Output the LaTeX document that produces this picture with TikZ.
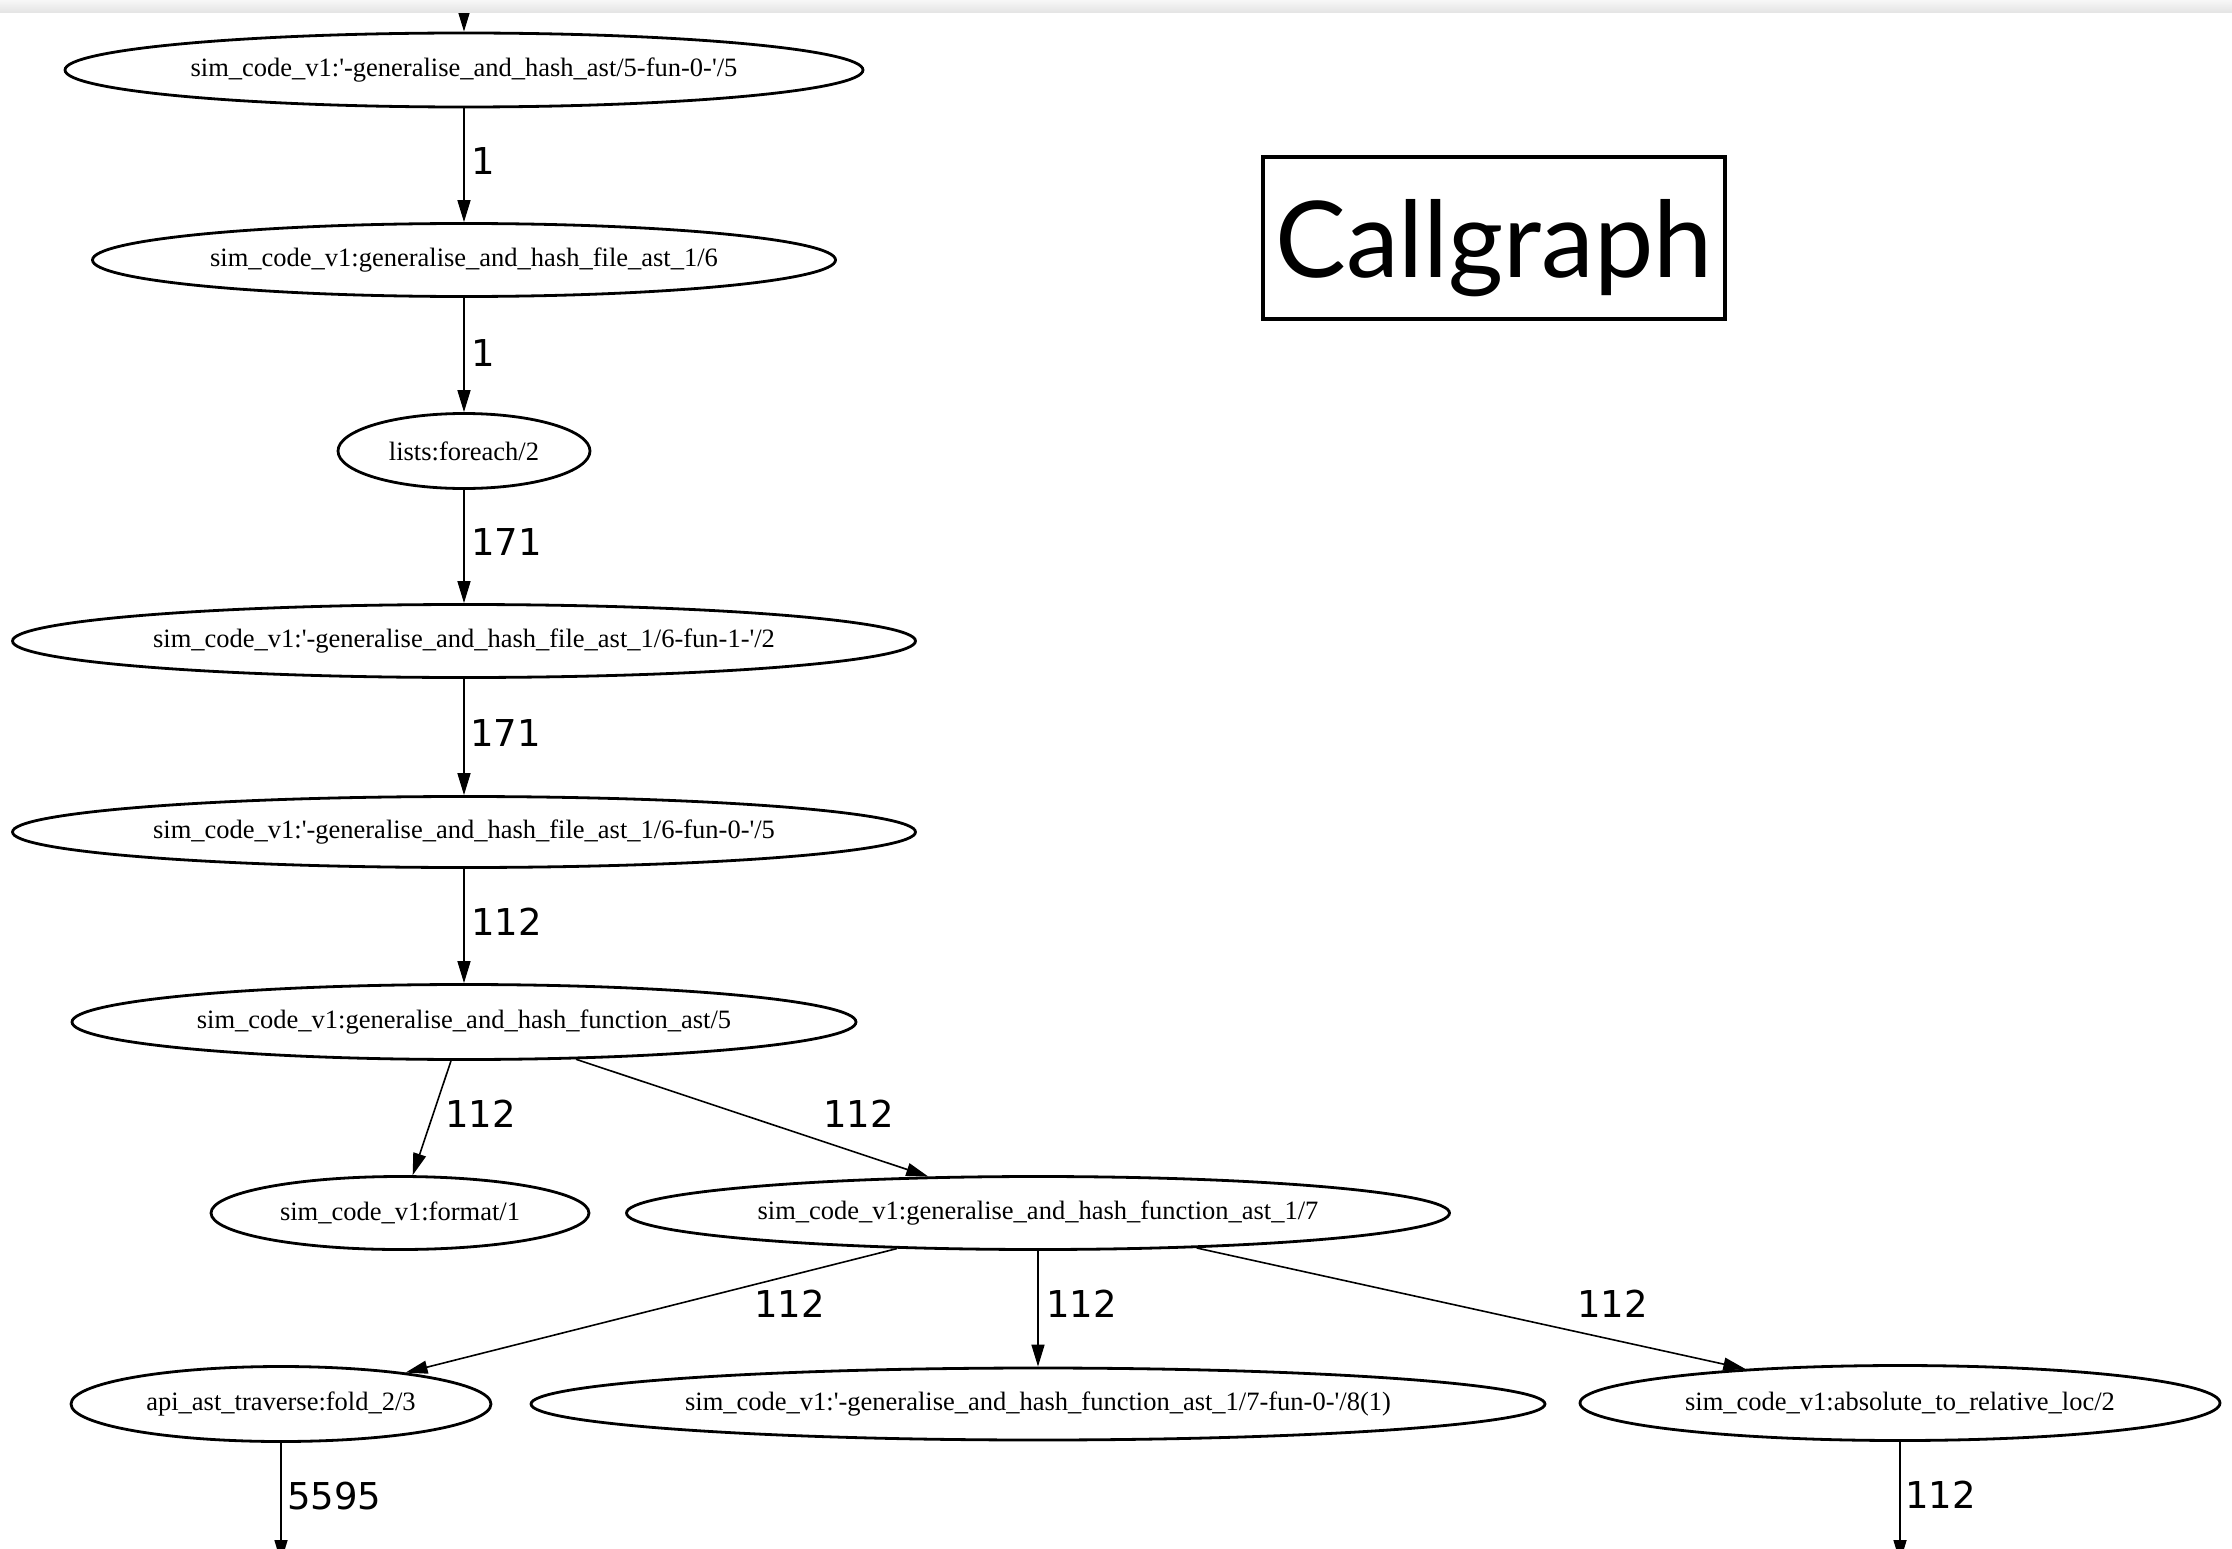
\documentclass[tikz,border=0pt]{standalone}
\usepackage{fontspec}
\setmainfont{Liberation Serif}
\newfontfamily\lblfont{DejaVu Sans}
\newfontfamily\titlefont{Lato}
\usetikzlibrary{arrows.meta,shapes.geometric}
\newcommand{\sq}{\textquotesingle}
\begin{document}
\begin{tikzpicture}[x=1pt,y=-1pt,
  fn/.style={ellipse, draw, line width=2.8pt, inner sep=0pt, font=\fontsize{26.5}{30}\selectfont},
  call/.style={draw, line width=1.6pt, -{Triangle[length=22pt,width=13pt]}},
  cnt/.style={anchor=west, inner sep=0pt, font=\lblfont\fontsize{37}{40}\selectfont},
  titlebox/.style={draw, line width=4pt, minimum width=462pt, minimum height=162pt, inner sep=0pt}]
\useasboundingbox (0,0) rectangle (2232,1549);
\fill[white] (0,0) rectangle (2232,1549);

% nodes
\node[fn, minimum width=798pt, minimum height=74pt] (n1) at (464,70) {sim\_code\_v1:\sq-generalise\_and\_hash\_ast/5-fun-0-\sq/5};
\node[fn, minimum width=743pt, minimum height=73pt] (n2) at (464,260) {sim\_code\_v1:generalise\_and\_hash\_file\_ast\_1/6};
\node[fn, minimum width=252pt, minimum height=75pt] (n3) at (464,451) {lists:foreach/2};
\node[fn, minimum width=903pt, minimum height=73pt] (n4) at (464,641) {sim\_code\_v1:\sq-generalise\_and\_hash\_file\_ast\_1/6-fun-1-\sq/2};
\node[fn, minimum width=903pt, minimum height=71pt] (n5) at (464,832) {sim\_code\_v1:\sq-generalise\_and\_hash\_file\_ast\_1/6-fun-0-\sq/5};
\node[fn, minimum width=784pt, minimum height=75pt] (n6) at (464,1022) {sim\_code\_v1:generalise\_and\_hash\_function\_ast/5};
\node[fn, minimum width=378pt, minimum height=73pt] (n7) at (400,1213) {sim\_code\_v1:format/1};
\node[fn, minimum width=823pt, minimum height=73pt] (n8) at (1038,1213) {sim\_code\_v1:generalise\_and\_hash\_function\_ast\_1/7};
\node[fn, minimum width=420pt, minimum height=75pt] (n9) at (281,1404) {api\_ast\_traverse:fold\_2/3};
\node[fn, minimum width=1014pt, minimum height=72pt] (n10) at (1038,1404) {sim\_code\_v1:\sq-generalise\_and\_hash\_function\_ast\_1/7-fun-0-\sq/8(1)};
\node[fn, minimum width=640pt, minimum height=75pt] (n11) at (1900,1403) {sim\_code\_v1:absolute\_to\_relative\_loc/2};

\coordinate (top) at (464,0);
\coordinate (out9) at (281,1562);
\coordinate (out11) at (1900,1562);

% connectors
\draw[call] (top) -- (n1.north);
\draw[call] (n1) -- (n2);
\draw[call] (n2) -- (n3);
\draw[call] (n3) -- (n4);
\draw[call] (n4) -- (n5);
\draw[call] (n5) -- (n6);
\draw[call] (n6) -- (n7);
\draw[call] (n6) -- (n8);
\draw[call] (n8) -- (n9);
\draw[call] (n8) -- (n10);
\draw[call] (n8) -- (n11);
\draw[call] (n9) -- (out9);
\draw[call] (n11) -- (out11);

% counts
\node[cnt] (c1) at (471,161) {1};
\node[cnt] (c2) at (471,353) {1};
\node[cnt] (c3) at (471,542) {171};
\node[cnt] (c4) at (470,733) {171};
\node[cnt] (c5) at (471,922) {112};
\node[cnt] (c6) at (445,1114) {112};
\node[cnt] (c7) at (823,1114) {112};
\node[cnt] (c8) at (754,1304) {112};
\node[cnt] (c9) at (1046,1304) {112};
\node[cnt] (c10) at (1577,1304) {112};
\node[cnt] (c11) at (287,1496) {5595};
\node[cnt] (c12) at (1905,1495) {112};

% title
\node[titlebox] (tbox) at (1494,238) {};
\node[anchor=base, inner sep=0pt, font=\titlefont\fontsize{106}{120}\selectfont] (title) at (1494,277) {Callgraph};

% browser bar
\shade[top color=gray!6, bottom color=gray!22] (0,0) rectangle (2232,13);
\end{tikzpicture}
\end{document}
